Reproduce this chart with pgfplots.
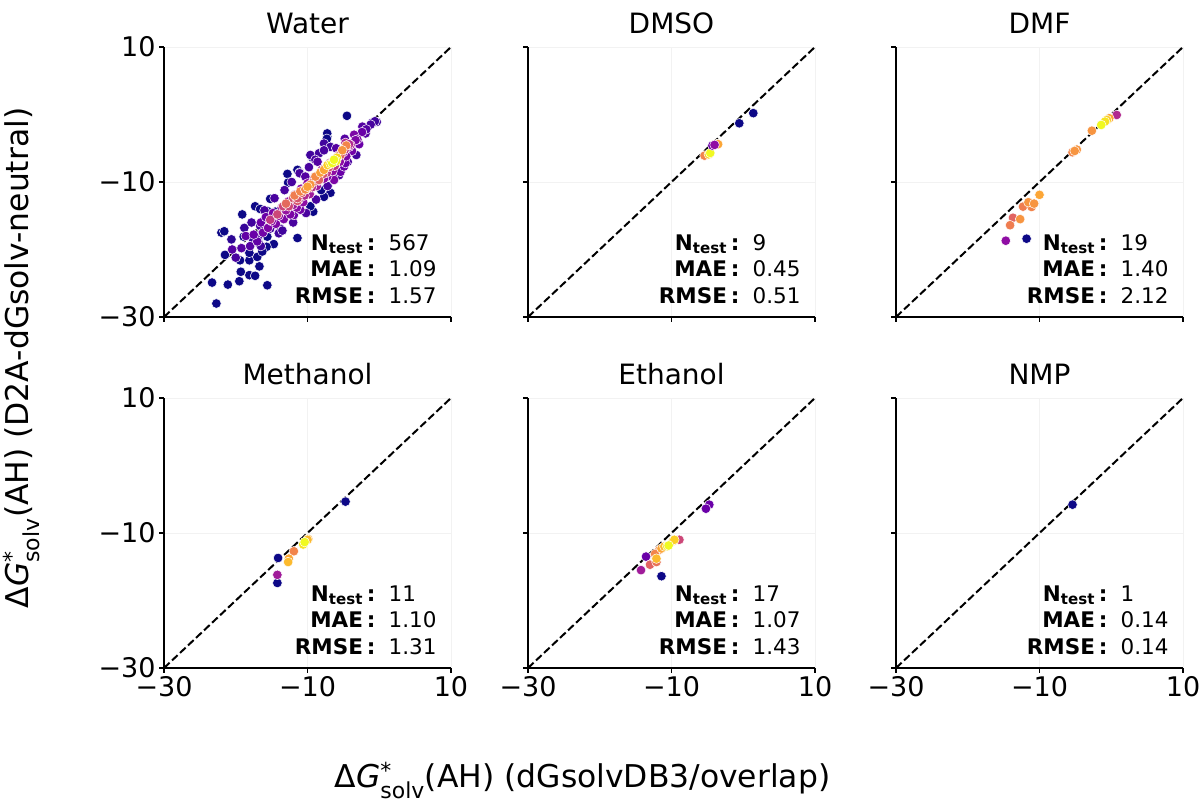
\documentclass[border=0pt]{standalone}
\usepackage{fontspec}
\setmainfont{DejaVu Sans}
\usepackage{amsmath}
\usepackage{pgfplots}
\usepackage{pgfplotstable}
\pgfplotsset{compat=1.18}

\newcommand\tickfont{\fontsize{27bp}{32bp}\selectfont}
\newcommand\titlefont{\fontsize{28bp}{33bp}\selectfont}
\newcommand\annfont{\fontsize{21.5bp}{26.7bp}\selectfont}
\newcommand\labfont{\fontsize{31.4bp}{37bp}\selectfont}

\pgfplotsset{
  colormap={plasma}{rgb255=(13,8,135) rgb255=(65,4,157) rgb255=(106,0,168) rgb255=(143,13,164) rgb255=(177,42,144) rgb255=(204,71,120) rgb255=(225,100,98) rgb255=(242,132,75) rgb255=(252,166,54) rgb255=(252,206,37) rgb255=(240,249,33)},
  panel/.style={
    scale only axis, width=287bp, height=270bp,
    xmin=-30, xmax=10, ymin=-30, ymax=10,
    axis lines*=left, axis line style={-, black, line width=1.1bp},
    xtick={-30,-10,10}, ytick={-30,-10,10},
    tick align=outside, major tick length=5bp,
    tick style={black, line width=1.1bp},
    grid=major, grid style={black!5, line width=0.6bp},
    point meta min=0, point meta max=1,
    colormap name=plasma,
    ticklabel style={font=\tickfont},
    title style={font=\titlefont, at={(0.5,1)}, anchor=base, yshift=8bp},
    xticklabels={,,}, yticklabels={,,},
  },
  showx/.style={xticklabels={−30,−10,10}},
  showy/.style={yticklabels={−30,−10,10}},
}

\newcommand\pts[1]{\addplot[scatter, only marks, mark=*, mark size=4.8bp, point meta=explicit,
  scatter/use mapped color={draw=white, fill=mapped color}, mark options={line width=0.5bp}]
  table[x=x, y=y, meta=c] {#1};}
\newcommand\diag{\addplot[black, line width=2bp, dash pattern=on 7.7bp off 3.3bp] coordinates {(-30,-30) (10,10)};}
\newcommand\ann[3]{\node[anchor=base east, inner sep=0pt, font=\annfont] at (rel axis cs:0.95,0.05)
  {\begin{tabular}[b]{@{}r@{\hspace{13bp}}l@{}}
   \textbf{N\textsubscript{test}\hspace{4bp}:} & #1\\
   \textbf{MAE\hspace{4bp}:} & #2\\
   \textbf{RMSE\hspace{4bp}:} & #3
   \end{tabular}};}

\pgfplotstableread{
x y c
-22.7 -28.0 0
-23.3 -24.9 0
-21.1 -25.2 0
-19.5 -24.7 0
-15.6 -25.3 0
-18.1 -23.8 0
-17.3 -23.9 0
-19.3 -23.3 0
-16.7 -22.5 0
-19.4 -21.6 0
-18.1 -21.6 0
-17.0 -21.1 0
-18.1 -20.5 0
-21.5 -20.8 0
-22.0 -17.5 0
-21.6 -17.3 0
-19.1 -14.8 0
-17.3 -13.6 0
-16.6 -14.0 0
-15.2 -12.5 0
-18.9 -18.1 0
-15.6 -18.1 0
-14.7 -19.2 0
-15.7 -19.6 0
-16.3 -20.3 0
-11.4 -18.3 0
-12.8 -8.8 0
-12.7 -10.1 0
-11.4 -8.2 0
-11.1 -8.6 0
-14.5 -14.4 0
-15.6 -14.3 0
-4.5 -0.2 0
-7.25 -3.3 0
-7.25 -2.8 0
-6.8 -11.6 0
-7.7 -12.2 0
-8.1 -11.2 0
-9.2 -14.4 0
-9.6 -13.6 0
-9.3 -6.4 0
-7.3 -3.6 0
-20.6 -18.5 0.06
-18.8 -16.8 0.08
-17.6 -18.5 0.08
-16.8 -19.0 0.08
-15.2 -16.9 0.1
-13.8 -16.9 0.1
-14.0 -17.6 0.1
-16.8 -17.9 0.1
-16.5 -19.5 0.1
-13.5 -17.2 0.1
-17.8 -16.0 0.1
-9.6 -6.0 0.1
-8.4 -5.75 0.1
-7.7 -4.3 0.1
-6.8 -4.8 0.1
-0.95 -1.2 0.1
-0.35 -1.1 0.1
-0.6 -1.0 0.1
-3.2 -6.0 0.1
-16.6 -16.5 0.12
-11.1 -8.7 0.12
-8.9 -6.7 0.12
-7.7 -5.3 0.12
-16.0 -14.2 0.12
-14.6 -12.4 0.12
-13.2 -11.2 0.12
-12.2 -10.0 0.12
-9.8 -7.8 0.12
-12.0 -16.0 0.12
-10.2 -14.6 0.12
-8.8 -12.6 0.12
-7.2 -10.6 0.12
-5.6 -9.0 0.12
-4.4 -7.0 0.12
-1.2 -1.5 0.12
-20.0 -21.2 0.12
-10.3 -9.2 0.15
-2.35 -1.8 0.15
-1.9 -2.8 0.15
-1.8 -2.2 0.15
-20.5 -20.0 0.15
-19.2 -19.8 0.15
-18.0 -19.5 0.15
-8.6 -7.0 0.15
-6.0 -5.0 0.15
-4.8 -3.6 0.15
-18.6 -18.0 0.18
-17.0 -18.8 0.18
-11.9 -14.9 0.2
-5.4 -8.5 0.2
-4.9 -7.7 0.2
-4.7 -7.2 0.2
-17.5 -17.8 0.2
-16.5 -16.0 0.2
-15.8 -15.2 0.2
-2.8 -4.4 0.2
-2.4 -2.6 0.2
-11.0 -14.1 0.22
-16.2 -17.5 0.22
-3.8 -5.4 0.22
-12.4 -14.1 0.25
-6.3 -9.7 0.25
-7.25 -9.2 0.25
-3.5 -3.0 0.25
-3.05 -3.7 0.25
-15.5 -16.8 0.25
-14.8 -14.6 0.25
-14.4 -16.2 0.25
-13.3 -15.5 0.25
-12.4 -14.8 0.25
-4.6 -6.2 0.25
-3.3 -3.8 0.25
-15.0 -15.8 0.28
-11.5 -13.8 0.28
-14.0 -15.0 0.3
-13.6 -13.8 0.3
-12.7 -12.9 0.3
-11.8 -11.9 0.3
-10.9 -11.0 0.3
-10.6 -13.0 0.3
-10.0 -10.2 0.3
-7.7 -9.5 0.3
-6.5 -8.4 0.3
-5.5 -7.0 0.3
-4.2 -4.8 0.3
-13.0 -14.2 0.32
-12.0 -13.4 0.35
-9.7 -11.8 0.35
-9.0 -9.3 0.35
-8.7 -10.6 0.35
-8.0 -8.2 0.35
-6.9 -7.2 0.35
-5.8 -6.3 0.35
-5.0 -5.6 0.35
-11.2 -12.6 0.38
-10.4 -12.0 0.4
-4.7 -4.2 0.4
-4.0 -4.5 0.4
-4.2 -4.4 0.4
-9.4 -10.8 0.42
-8.4 -9.8 0.45
-7.3 -8.6 0.45
-6.2 -7.6 0.45
-15.2 -15.6 0.45
-4.8 -5.2 0.45
-14.2 -14.8 0.5
-13.4 -13.6 0.5
-12.6 -13.6 0.5
-5.6 -6.0 0.5
-8.2 -9.0 0.5
-12.0 -12.4 0.55
-11.4 -12.8 0.55
-7.8 -8.8 0.55
-7.0 -7.8 0.55
-6.4 -7.0 0.55
-11.4 -12.4 0.55
-10.8 -11.6 0.58
-9.2 -10.0 0.58
-9.9 -10.9 0.6
-8.6 -9.4 0.6
-8.4 -9.7 0.6
-5.4 -6.0 0.6
-13.0 -13.2 0.62
-11.8 -12.0 0.68
-11.0 -11.4 0.7
-10.3 -11.1 0.7
-4.6 -4.6 0.7
-10.3 -11.1 0.72
-8.9 -9.2 0.72
-9.6 -10.4 0.75
-5.15 -5.3 0.75
-10.0 -10.7 0.78
-8.2 -8.6 0.78
-7.7 -8.2 0.8
-7.2 -7.5 0.9
-5.9 -6.4 0.92
-6.8 -7.3 0.95
-6.0 -6.9 0.97
-6.55 -7.2 1.0
-6.3 -6.7 1.0
}\water

\pgfplotstableread{
x y c
1.4 0.2 0
-0.55 -1.3 0
-3.7 -4.4 0.75
-3.5 -4.4 0.8
-5.4 -6.1 0.7
-4.8 -5.9 0.9
-4.6 -5.7 1.0
-4.3 -4.6 0.2
-4.0 -4.5 0.3
}\dmso

\pgfplotstableread{
x y c
-11.8 -18.4 0
-14.7 -18.7 0.3
0.76 -0.07 0.4
-13.7 -15.3 0.6
-12.3 -13.65 0.68
-14.1 -16.4 0.68
-11.1 -13.7 0.7
-5.4 -5.6 0.7
-12.7 -15.5 0.75
-11.55 -13.0 0.75
-10.75 -13.2 0.75
-2.7 -2.4 0.75
-4.8 -5.2 0.75
-5.1 -5.4 0.75
-10.0 -11.9 0.8
-0.27 -0.55 0.8
-0.6 -0.8 0.9
-0.87 -1.05 0.95
-1.4 -1.55 1.0
}\dmf

\pgfplotstableread{
x y c
-4.7 -5.35 0
-14.1 -13.7 0
-14.2 -17.4 0
-14.2 -16.2 0.35
-11.9 -12.7 0.7
-9.9 -10.9 0.8
-12.6 -13.8 0.8
-12.7 -14.3 0.85
-10.0 -11.0 0.85
-10.6 -11.7 0.95
-10.4 -11.35 1.0
}\methanol

\pgfplotstableread{
x y c
-11.4 -16.4 0
-4.73 -5.8 0.2
-5.2 -6.4 0.2
-13.55 -13.5 0.2
-14.25 -15.5 0.35
-8.9 -11.0 0.5
-13.0 -14.7 0.6
-12.1 -14.3 0.65
-11.7 -12.5 0.7
-12.3 -13.1 0.7
-11.4 -12.3 0.8
-9.8 -11.2 0.85
-12.1 -13.8 0.85
-11.0 -12.0 0.85
-9.6 -11.0 0.9
-10.6 -11.95 0.95
-10.4 -11.85 1.0
}\ethanol

\pgfplotstableread{
x y c
-5.4 -5.8 0
}\nmp

\begin{document}
\begin{tikzpicture}
\useasboundingbox (0,0) rectangle (1203bp,810bp);

\begin{axis}[panel, showy, at={(164bp,493bp)}, anchor=south west, title={Water}]
\pts{\water}
\diag
\ann{567}{1.09}{1.57}
\end{axis}

\begin{axis}[panel, at={(528bp,493bp)}, anchor=south west, title={DMSO}]
\pts{\dmso}
\diag
\ann{9}{0.45}{0.51}
\end{axis}

\begin{axis}[panel, at={(896bp,493bp)}, anchor=south west, title={DMF}]
\pts{\dmf}
\diag
\ann{19}{1.40}{2.12}
\end{axis}

\begin{axis}[panel, showx, showy, at={(164bp,142bp)}, anchor=south west, title={Methanol}]
\pts{\methanol}
\diag
\ann{11}{1.10}{1.31}
\end{axis}

\begin{axis}[panel, showx, at={(528bp,142bp)}, anchor=south west, title={Ethanol}]
\pts{\ethanol}
\diag
\ann{17}{1.07}{1.43}
\end{axis}

\begin{axis}[panel, showx, at={(896bp,142bp)}, anchor=south west, title={NMP}]
\pts{\nmp}
\diag
\ann{1}{0.14}{0.14}
\end{axis}

\node[anchor=base, font=\labfont] at (582.5bp,23bp) {Δ\textit{G}$^{\text{*}}_{\text{solv}}$(AH) (dGsolvDB3/overlap)};
\node[anchor=base, rotate=90, font=\labfont] at (28bp,452bp) {Δ\textit{G}$^{\text{*}}_{\text{solv}}$(AH) (D2A-dGsolv-neutral)};
\end{tikzpicture}
\end{document}
